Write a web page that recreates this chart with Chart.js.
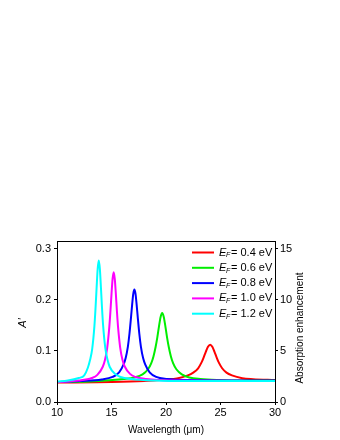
<!DOCTYPE html>
<html>
<head>
<meta charset="utf-8">
<script src="https://cdn.jsdelivr.net/npm/chart.js@4"></script>
<style>
  html, body { margin: 0; padding: 0; background: #fff; }
  #wrap { width: 340px; height: 440px; position: relative; }
</style>
</head>
<body>
<div id="wrap"><canvas id="chart" width="340" height="440"></canvas></div>
<script>
// values: [wavelength (um), A']
const redPts = [[10,0.038],[15,0.039],[18,0.041],[20,0.044],[21,0.046],[22,0.052],[22.5,0.0575],[22.95,0.066],[23.25,0.077],[23.45,0.087],[23.65,0.098],[23.85,0.108],[24.05,0.112],[24.25,0.108],[24.45,0.098],[24.65,0.087],[24.85,0.077],[25.15,0.066],[25.55,0.0575],[26.05,0.052],[27,0.0465],[28,0.0447],[30,0.043]];
const greenPts = [[10,0.039],[13,0.040],[15.1,0.043],[16.1,0.045],[17.1,0.048],[17.85,0.054],[18.35,0.064],[18.65,0.076],[18.85,0.089],[19.05,0.108],[19.2,0.126],[19.35,0.147],[19.5,0.166],[19.65,0.174],[19.8,0.166],[19.95,0.147],[20.1,0.126],[20.25,0.108],[20.45,0.089],[20.65,0.076],[20.95,0.064],[21.45,0.054],[22.15,0.048],[23.15,0.045],[24.65,0.043],[27.6,0.042],[30,0.042]];
const bluePts = [[10,0.039],[12.1,0.041],[14.1,0.044],[15.1,0.049],[15.7,0.058],[16.1,0.073],[16.3,0.086],[16.5,0.108],[16.65,0.134],[16.8,0.168],[16.9,0.192],[17.0,0.212],[17.1,0.220],[17.2,0.212],[17.3,0.192],[17.4,0.168],[17.55,0.134],[17.7,0.108],[17.9,0.086],[18.1,0.073],[18.5,0.058],[19.1,0.049],[20.1,0.045],[22.1,0.043],[30,0.042]];
const magentaPts = [[10,0.039],[12,0.042],[13.2,0.047],[13.7,0.053],[14.2,0.069],[14.4,0.082],[14.6,0.105],[14.8,0.147],[14.9,0.177],[15.0,0.211],[15.1,0.241],[15.2,0.254],[15.3,0.241],[15.4,0.211],[15.5,0.177],[15.6,0.147],[15.8,0.106],[16.0,0.083],[16.2,0.070],[16.7,0.055],[17.2,0.049],[18.2,0.045],[20.2,0.042],[30,0.041]];
const cyanPts = [[10,0.040],[11,0.042],[12,0.047],[12.5,0.052],[12.83,0.067],[13.03,0.082],[13.23,0.104],[13.43,0.148],[13.53,0.182],[13.63,0.222],[13.73,0.260],[13.83,0.277],[13.93,0.261],[14.03,0.224],[14.13,0.184],[14.23,0.150],[14.43,0.106],[14.63,0.083],[14.83,0.069],[15.33,0.055],[15.83,0.049],[16.83,0.045],[19,0.042],[22,0.041],[30,0.041]];

const seriesNames = ['0.4 eV', '0.6 eV', '0.8 eV', '1.0 eV', '1.2 eV'];
const seriesColors = ['#ff0000', '#00ee00', '#0000ff', '#ff00ff', '#00ffff'];
const seriesPts = [redPts, greenPts, bluePts, magentaPts, cyanPts];

const xTicks = [10, 15, 20, 25, 30];
const yTicks = [0, 0.1, 0.2, 0.3];
const y2Ticks = [0, 5, 10, 15];

const FONT = '"Liberation Sans", Arial, sans-serif';
Chart.defaults.font.family = FONT;
Chart.defaults.font.size = 11;
Chart.defaults.color = '#000';

// datasets reversed so cyan ends up on top
const datasets = seriesPts.map((pts, i) => ({
  label: seriesNames[i],
  data: pts.map(p => ({ x: p[0], y: p[1] })),
  borderColor: seriesColors[i],
  borderWidth: 2,
  pointRadius: 0,
  fill: false,
  cubicInterpolationMode: 'monotone',
  yAxisID: 'y'
})).reverse();

const keep = list => scale => { scale.ticks = list.map(v => ({ value: v })); };

const frame = {
  id: 'frame',
  afterDraw(c) {
    const ctx = c.ctx, a = c.chartArea;
    ctx.save();
    ctx.strokeStyle = '#000';
    ctx.lineWidth = 1;
    ctx.strokeRect(a.left + 0.5, a.top + 0.5, a.right - a.left, a.bottom - a.top);

    // legend
    seriesNames.forEach((name, i) => {
      const y = 252.5 + i * 15.3;
      ctx.strokeStyle = seriesColors[i];
      ctx.lineWidth = 2;
      ctx.beginPath();
      ctx.moveTo(192, y);
      ctx.lineTo(214, y);
      ctx.stroke();
      ctx.fillStyle = '#000';
      ctx.textBaseline = 'middle';
      ctx.textAlign = 'left';
      ctx.font = 'italic 11px ' + FONT;
      ctx.fillText('E', 219, y);
      ctx.font = 'italic 7px ' + FONT;
      ctx.fillText('F', 226, y + 3);
      ctx.font = '11px ' + FONT;
      ctx.fillText('= ' + name, 231, y);
    });

    // axis titles
    ctx.fillStyle = '#000';
    ctx.textAlign = 'center';
    ctx.textBaseline = 'middle';
    ctx.font = '10px ' + FONT;
    ctx.fillText('Wavelength (\u03bcm)', (a.left + a.right) / 2, 430);

    ctx.save();
    ctx.translate(23, 323);
    ctx.rotate(-Math.PI / 2);
    ctx.font = 'italic 11px ' + FONT;
    ctx.fillText('A\u2032', 0, 0);
    ctx.restore();

    ctx.save();
    ctx.translate(300, 328);
    ctx.rotate(-Math.PI / 2);
    ctx.font = '10px ' + FONT;
    ctx.fillText('Absorption enhancement', 0, 0);
    ctx.restore();
    ctx.restore();
  }
};

new Chart(document.getElementById('chart'), {
  type: 'line',
  data: { datasets },
  options: {
    responsive: false,
    animation: false,
    layout: { padding: { top: 241, left: 0, right: 0, bottom: 0 } },
    plugins: { legend: { display: false }, tooltip: { enabled: false } },
    scales: {
      x: {
        type: 'linear', min: 10, max: 30,
        afterBuildTicks: keep(xTicks),
        afterFit: s => { s.height = 38; },
        grid: { drawOnChartArea: false, tickLength: 3, color: '#000' },
        border: { color: '#000' },
        ticks: { padding: 1, maxRotation: 0, callback: v => v }
      },
      y: {
        position: 'left', min: 0, max: 0.315,
        afterBuildTicks: keep(yTicks),
        afterFit: s => { s.width = 57; },
        grid: { drawOnChartArea: false, tickLength: 3, color: '#000' },
        border: { color: '#000' },
        ticks: { padding: 3, callback: v => v.toFixed(1) }
      },
      y2: {
        position: 'right', min: 0, max: 15.75,
        afterBuildTicks: keep(y2Ticks),
        afterFit: s => { s.width = 65; },
        grid: { drawOnChartArea: false, tickLength: 3, color: '#000' },
        border: { color: '#000' },
        ticks: { padding: 2, callback: v => v }
      }
    }
  },
  plugins: [frame]
});
</script>
</body>
</html>
